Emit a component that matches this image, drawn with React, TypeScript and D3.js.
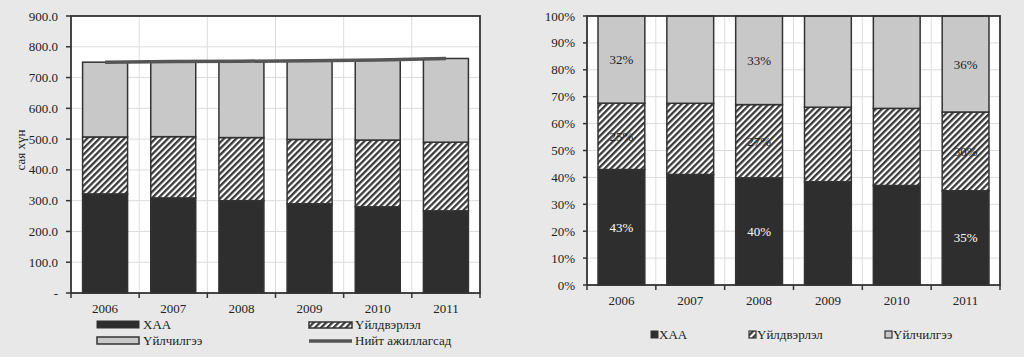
import React from 'react';
import * as d3 from 'd3';

const years = ['2006', '2007', '2008', '2009', '2010', '2011'];
const xaa = [322, 309, 300, 290, 280, 267];
const industry = [185, 199, 205, 209, 217, 223];
const services = [243, 244, 248, 256, 260, 272];
const totals = [750, 752, 753, 755, 757, 762];
const leftTicks = [0, 100, 200, 300, 400, 500, 600, 700, 800, 900];
const rightTicks = [0, 0.1, 0.2, 0.3, 0.4, 0.5, 0.6, 0.7, 0.8, 0.9, 1];
const labelYears = ['2006', '2008', '2011'];
const labelXaa = ['43%', '40%', '35%'];
const labelIndustry = ['25%', '27%', '30%'];
const labelServices = ['32%', '33%', '36%'];
const seriesNames = ['ХАА', 'Үйлдвэрлэл', 'Үйлчилгээ'];
const lineName = 'Нийт ажиллагсад';
const yTitle = 'сая хүн';

const FONT = '"Liberation Serif", "DejaVu Serif", serif';
const DARK = '#2e2e2e';
const GREY = '#c8c8c8';
const FRAME = '#333';
const GRID = '#dcdcdc';

const rows = years.map((y, i) => ({ year: y, xaa: xaa[i], industry: industry[i], services: services[i] }));
const keys = ['xaa', 'industry', 'services'];
const fills = [DARK, 'url(#hatch)', GREY];

export default function App() {
  // Left chart
  const L = { x0: 71, x1: 480, y0: 16, y1: 293 };
  const lx = d3.scaleBand().domain(years).range([L.x0, L.x1]).paddingInner(0).paddingOuter(0);
  const ly = d3.scaleLinear().domain([0, 900]).range([L.y1, L.y0]);
  const lStack = d3.stack().keys(keys)(rows as any);
  const lbw = lx.bandwidth() * 0.66;
  const line = d3.line<number>().x((_, i) => (lx(years[i]) as number) + lx.bandwidth() / 2).y(d => ly(d));

  // Right chart
  const R = { x0: 587, x1: 1000, y0: 16, y1: 285 };
  const rx = d3.scaleBand().domain(years).range([R.x0, R.x1]).paddingInner(0).paddingOuter(0);
  const ry = d3.scaleLinear().domain([0, 1]).range([R.y1, R.y0]);
  const rStack = d3.stack().keys(keys).offset(d3.stackOffsetExpand)(rows as any);
  const rbw = rx.bandwidth() * 0.68;

  const labelArrays = [labelXaa, labelIndustry, labelServices];
  const labelColors = ['#fff', '#222', '#222'];

  return (
    <div style={{ position: 'absolute', left: 0, top: 0 }}>
      <svg width={1024} height={357} style={{ display: 'block', fontFamily: FONT }}>
        <defs>
          <pattern id="hatch" patternUnits="userSpaceOnUse" width={4.4} height={4.4} patternTransform="rotate(45)">
            <rect x={0} y={0} width={4.4} height={4.4} fill="#fff" />
            <rect x={0} y={0} width={2.3} height={4.4} fill="#3a3a3a" />
          </pattern>
        </defs>
        <rect x={0} y={0} width={1024} height={357} fill="#e8e8e8" />

        {/* LEFT CHART */}
        <rect x={L.x0} y={L.y0} width={L.x1 - L.x0} height={L.y1 - L.y0} fill="#fff" />
        {leftTicks.map(t => (
          <line key={'lg' + t} x1={L.x0} x2={L.x1} y1={ly(t)} y2={ly(t)} stroke={GRID} strokeWidth={1} />
        ))}
        {years.map((y, i) => i > 0 && (
          <line key={'lv' + y} x1={lx(y)} x2={lx(y)} y1={L.y0} y2={L.y1} stroke={GRID} strokeWidth={1} />
        ))}
        {lStack.map((s, si) => (
          <g key={'ls' + si}>
            {s.map((d, i) => (
              <rect key={i} x={(lx(years[i]) as number) + (lx.bandwidth() - lbw) / 2} y={ly(d[1])}
                width={lbw} height={ly(d[0]) - ly(d[1])} fill={fills[si]} stroke={FRAME} strokeWidth={1.5} />
            ))}
          </g>
        ))}
        <path d={line(totals) as string} fill="none" stroke="#555" strokeWidth={3.5} />
        <rect x={L.x0} y={L.y0} width={L.x1 - L.x0} height={L.y1 - L.y0} fill="none" stroke={FRAME} strokeWidth={1.8} />
        {leftTicks.map(t => (
          <g key={'lt' + t}>
            <line x1={L.x0 - 5} x2={L.x0} y1={ly(t)} y2={ly(t)} stroke={FRAME} strokeWidth={1.5} />
            <text x={L.x0 - 13} y={ly(t)} dy="0.35em" textAnchor="end" fontSize={13} fill="#222">
              {t === 0 ? '-' : d3.format('.1f')(t)}
            </text>
          </g>
        ))}
        {years.map((y, i) => (
          <line key={'ltx' + y} x1={lx(y)} x2={lx(y)} y1={L.y1} y2={L.y1 + 5} stroke={FRAME} strokeWidth={1.5} />
        ))}
        <line x1={L.x1} x2={L.x1} y1={L.y1} y2={L.y1 + 5} stroke={FRAME} strokeWidth={1.5} />
        {years.map(y => (
          <text key={'lxl' + y} x={(lx(y) as number) + lx.bandwidth() / 2} y={L.y1 + 20} textAnchor="middle" fontSize={13} fill="#222">{y}</text>
        ))}
        <text transform="translate(25,150) rotate(-90)" textAnchor="middle" fontSize={13} fill="#222">{yTitle}</text>

        {/* left legend */}
        <rect x={97} y={321} width={42} height={7} fill={DARK} stroke={FRAME} strokeWidth={1} />
        <text x={143} y={329} fontSize={13} fill="#222">{seriesNames[0]}</text>
        <rect x={97} y={337} width={42} height={7} fill={GREY} stroke={FRAME} strokeWidth={1.5} />
        <text x={143} y={345} fontSize={13} fill="#222">{seriesNames[2]}</text>
        <rect x={309} y={322} width={43} height={6} fill="url(#hatch)" stroke={FRAME} strokeWidth={1.5} />
        <text x={355} y={329} fontSize={13} fill="#222">{seriesNames[1]}</text>
        <line x1={309} x2={352} y1={341} y2={341} stroke="#555" strokeWidth={3.5} />
        <text x={355} y={345} fontSize={13} fill="#222">{lineName}</text>

        {/* RIGHT CHART */}
        <rect x={R.x0} y={R.y0} width={R.x1 - R.x0} height={R.y1 - R.y0} fill="#fff" />
        {rightTicks.map(t => (
          <line key={'rg' + t} x1={R.x0} x2={R.x1} y1={ry(t)} y2={ry(t)} stroke={GRID} strokeWidth={1} />
        ))}
        {years.map((y, i) => i > 0 && (
          <line key={'rv' + y} x1={rx(y)} x2={rx(y)} y1={R.y0} y2={R.y1} stroke={GRID} strokeWidth={1} />
        ))}
        {rStack.map((s, si) => (
          <g key={'rs' + si}>
            {s.map((d, i) => (
              <rect key={i} x={(rx(years[i]) as number) + (rx.bandwidth() - rbw) / 2} y={ry(d[1])}
                width={rbw} height={ry(d[0]) - ry(d[1])} fill={fills[si]} stroke={FRAME} strokeWidth={1.5} />
            ))}
          </g>
        ))}
        {rStack.map((s, si) => labelYears.map((ly2, li) => {
          const i = years.indexOf(ly2);
          const d = s[i];
          return (
            <text key={'lab' + si + li} x={(rx(ly2) as number) + rx.bandwidth() / 2} y={ry((d[0] + d[1]) / 2)} dy="0.35em"
              textAnchor="middle" fontSize={13} fill={labelColors[si]}>{labelArrays[si][li]}</text>
          );
        }))}
        <rect x={R.x0} y={R.y0} width={R.x1 - R.x0} height={R.y1 - R.y0} fill="none" stroke={FRAME} strokeWidth={1.8} />
        {rightTicks.map(t => (
          <g key={'rt' + t}>
            <line x1={R.x0 - 4} x2={R.x0} y1={ry(t)} y2={ry(t)} stroke={FRAME} strokeWidth={1.5} />
            <text x={R.x0 - 12} y={ry(t)} dy="0.35em" textAnchor="end" fontSize={13} fill="#222">{d3.format('.0%')(t)}</text>
          </g>
        ))}
        {years.map(y => (
          <line key={'rtx' + y} x1={rx(y)} x2={rx(y)} y1={R.y1} y2={R.y1 + 5} stroke={FRAME} strokeWidth={1.5} />
        ))}
        <line x1={R.x1} x2={R.x1} y1={R.y1} y2={R.y1 + 5} stroke={FRAME} strokeWidth={1.5} />
        {years.map(y => (
          <text key={'rxl' + y} x={(rx(y) as number) + rx.bandwidth() / 2} y={R.y1 + 20} textAnchor="middle" fontSize={13} fill="#222">{y}</text>
        ))}

        {/* right legend */}
        <rect x={651} y={331} width={7} height={7} fill={DARK} stroke={FRAME} strokeWidth={1} />
        <text x={659} y={339} fontSize={13} fill="#222">{seriesNames[0]}</text>
        <rect x={749} y={331} width={7} height={7} fill="url(#hatch)" stroke={FRAME} strokeWidth={1.2} />
        <text x={757} y={339} fontSize={13} fill="#222">{seriesNames[1]}</text>
        <rect x={885} y={331} width={7} height={7} fill={GREY} stroke={FRAME} strokeWidth={1.2} />
        <text x={893} y={339} fontSize={13} fill="#222">{seriesNames[2]}</text>
      </svg>
    </div>
  );
}
